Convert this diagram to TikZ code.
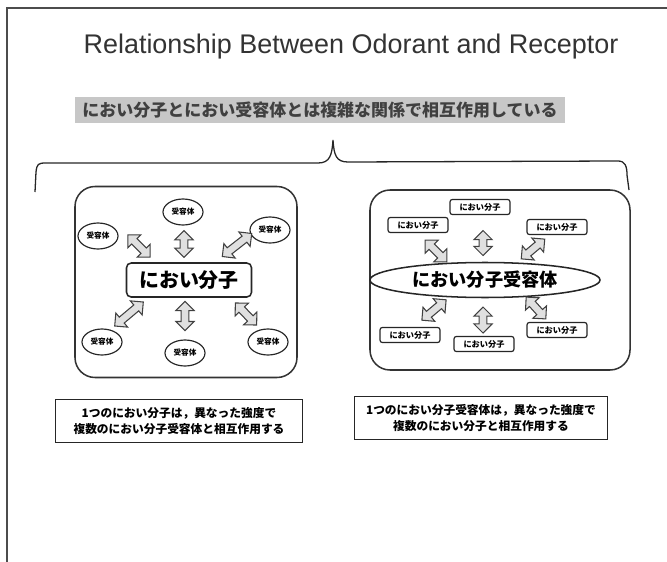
\documentclass[tikz,border=0pt]{standalone}
\usepackage{fontspec}
\setmainfont{Liberation Sans}
\newfontfamily\jp{Noto Sans CJK JP}
\usetikzlibrary{shapes.geometric,shapes.arrows}

\begin{document}
\begin{tikzpicture}[x=0.03cm, y=-0.03cm, line width=1pt,
  panel/.style={rectangle,draw=black!80,rounded corners=0.6cm,line width=1.3pt},
  rec node/.style={ellipse,draw=black!85,fill=white,minimum width=1.2cm,minimum height=0.78cm,inner sep=0pt,font=\jp\bfseries\fontsize{6.5}{7}\selectfont},
  mol node/.style={rectangle,rounded corners=2pt,draw=black!85,fill=white,minimum width=1.8cm,minimum height=0.45cm,inner sep=0pt,font=\jp\bfseries\fontsize{7}{8}\selectfont},
  arr node/.style={double arrow,draw=black!75,fill=black!12,line width=0.9pt,inner xsep=0pt,inner ysep=0.1cm,double arrow head extend=0.16cm,minimum height=#1},
  note/.style={rectangle,draw=black!85,line width=1.1pt,minimum height=1.3cm,align=center,font=\jp\bfseries\fontsize{10}{13}\selectfont}]
\useasboundingbox (0,0) rectangle (667,562);
% frame
\draw[black!70, line width=1.2pt] (7,562) -- (7,8) -- (667,8);
% title and subtitle
\node[font=\fontsize{23}{27}\selectfont, text=black!80] (title) at (351,47) {Relationship Between Odorant and Receptor};
\node[fill=black!22, minimum width=14.7cm, minimum height=0.78cm, text=black!75, font=\jp\bfseries\fontsize{14.5}{16}\selectfont] (sub) at (320,110) {におい分子とにおい受容体とは複雑な関係で相互作用している};
% brace
\coordinate (bl) at (35,192);
\coordinate (bt) at (333,140);
\coordinate (br) at (629,190);
\draw[black!85, line width=1.1pt] (bl) -- (36,172) .. controls (37,164) and (38,163) .. (46,163) -- (318,163) .. controls (330,163) and (332,155) .. (bt) .. controls (334,155) and (336,162) .. (348,162) -- (618,161) .. controls (625,161) and (627,166) .. (627,175) -- (br);

% left panel
\node[panel, minimum width=6.66cm, minimum height=5.73cm] (lp) at (186,282) {};
\node[rectangle, rounded corners=4pt, draw=black!85, line width=1.3pt, fill=white, minimum width=3.75cm, minimum height=1.02cm, font=\jp\bfseries\fontsize{17}{18}\selectfont] (mol) at (189,280) {におい分子};
\node[rec node] (r1) at (98,236) {受容体};
\node[rec node] (r2) at (183,212) {受容体};
\node[rec node] (r3) at (270,230) {受容体};
\node[rec node] (r4) at (102,342) {受容体};
\node[rec node] (r5) at (185,353) {受容体};
\node[rec node] (r6) at (268,342) {受容体};
\node[arr node=0.95cm, rotate=-45] (a1) at (139,246) {};
\node[arr node=0.8cm, rotate=90] (a2) at (184,244) {};
\node[arr node=1.12cm, rotate=38] (a3) at (237,245) {};
\node[arr node=1.12cm, rotate=40] (a4) at (129,314) {};
\node[arr node=0.88cm, rotate=90] (a5) at (185,316) {};
\node[arr node=0.92cm, rotate=-46] (a6) at (246,314) {};

% right panel
\node[panel, minimum width=7.8cm, minimum height=5.4cm] (rp) at (500,280) {};
\node[ellipse, draw=black!85, line width=1.3pt, fill=white, minimum width=6.9cm, minimum height=1.05cm, inner sep=0pt, font=\jp\bfseries\fontsize{15.5}{17}\selectfont] (rec) at (485,280) {におい分子受容体};
\node[mol node] (m1) at (480,207) {におい分子};
\node[mol node] (m2) at (418,225) {におい分子};
\node[mol node] (m3) at (557,227) {におい分子};
\node[mol node] (m4) at (410,335) {におい分子};
\node[mol node] (m5) at (484,344) {におい分子};
\node[mol node] (m6) at (557,330) {におい分子};
\node[arr node=0.92cm, rotate=-45] (b1) at (436,251) {};
\node[arr node=0.75cm, rotate=90] (b2) at (483,243) {};
\node[arr node=0.92cm, rotate=40] (b3) at (533,249) {};
\node[arr node=0.95cm, rotate=40] (b4) at (434,310) {};
\node[arr node=0.78cm, rotate=90] (b5) at (483,320) {};
\node[arr node=0.88cm, rotate=-48] (b6) at (536,308) {};

% notes
\node[note, minimum width=7.4cm] (nl) at (179,421) {1つのにおい分子は，異なった強度で\\複数のにおい分子受容体と相互作用する};
\node[note, minimum width=7.6cm] (nr) at (481,418) {1つのにおい分子受容体は，異なった強度で\\複数のにおい分子と相互作用する};
\end{tikzpicture}
\end{document}
